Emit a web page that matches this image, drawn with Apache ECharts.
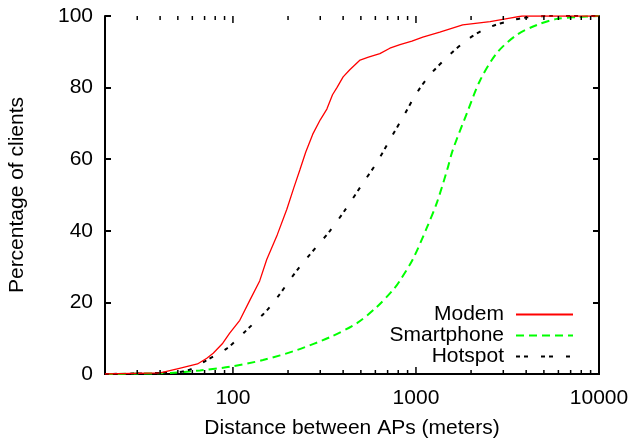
<!DOCTYPE html>
<html>
<head>
<meta charset="utf-8">
<script src="https://cdn.jsdelivr.net/npm/echarts@6/dist/echarts.min.js"></script>
<style>html,body{margin:0;padding:0;background:#fff}#c{width:634px;height:441px}</style>
</head>
<body>
<div id="c"></div>
<script>
const seriesNames = ['Modem', 'Smartphone', 'Hotspot'];

const modemX = [20, 40, 51, 64, 72, 78, 88, 96, 109, 124, 140, 153, 175, 197, 215, 232, 250, 273, 300, 326, 350, 370, 400, 435, 495, 550, 635, 720, 818, 950, 1090, 1350, 1800, 2540, 3260, 3800, 10000];
const modemY = [0, 0.3, 1.6, 2.8, 4.4, 5.8, 8.6, 11.4, 15, 20.7, 26, 32, 39, 46, 52, 57, 62, 67, 71, 74, 78, 80, 83, 85, 87.7, 88.5, 89.5, 91, 92, 93, 94.1, 95.5, 97.5, 98.4, 99.4, 100, 100];

const smartX = [20, 45, 66, 96, 146, 224, 339, 476, 610, 750, 815, 960, 1150, 1300, 1480, 1590, 1900, 2240, 2770, 3550, 4580, 5880, 7600, 10000];
const smartY = [0, 0.3, 1, 2, 3.9, 6.7, 10.3, 14.2, 18.7, 23.5, 26, 32, 41, 47.8, 57, 62.6, 72.9, 82, 89.7, 94.7, 97.5, 99.2, 99.7, 100];

const hotX = [20, 50, 60, 72, 93, 119, 159, 232, 339, 420, 513, 610, 720, 850, 1010, 1190, 1480, 1900, 2440, 3400, 4200, 5500, 10000];
const hotY = [0, 0.5, 1.5, 3.9, 7.2, 12.3, 18.7, 30, 40, 46.6, 53.3, 59, 65.4, 71.8, 78.5, 83.5, 88.5, 93.3, 96.6, 98.9, 99.7, 100, 100];

const xMajorTicks = [100, 1000, 10000];
const xMinorTicks = [30, 40, 50, 60, 70, 80, 90, 200, 300, 400, 500, 600, 700, 800, 900, 2000, 3000, 4000, 5000, 6000, 7000, 8000, 9000];
const yTicks = [0, 20, 40, 60, 80, 100];

const FONT = "'Liberation Sans', Arial, Helvetica, sans-serif";
const FS = 21;
const zip = (xs, ys) => xs.map((x, i) => [x, ys[i]]);

const tickData = xMajorTicks.map(v => [v, 1]).concat(xMinorTicks.map(v => [v, 0]));

const chart = echarts.init(document.getElementById('c'), null, {renderer: 'canvas'});
chart.setOption({
  animation: false,
  backgroundColor: '#fff',
  textStyle: {fontFamily: FONT},
  grid: {left: 105, right: 35, top: 16, bottom: 67, containLabel: false, outerBoundsMode: 'none'},
  legend: {
    orient: 'vertical',
    right: 60,
    top: 304,
    align: 'right',
    itemWidth: 57,
    itemHeight: 14,
    itemGap: 0,
    padding: 0,
    data: seriesNames,
    itemStyle: {opacity: 0},
    textStyle: {fontSize: FS, lineHeight: 21, color: '#000', fontFamily: FONT, padding: [0, 7, 0, 0]}
  },
  xAxis: [{
    type: 'log',
    logBase: 10,
    min: 20,
    max: 10000,
    position: 'bottom',
    name: 'Distance between APs (meters)',
    nameLocation: 'middle',
    nameGap: 44,
    nameTextStyle: {fontSize: FS, color: '#000', fontFamily: FONT},
    axisLine: {show: true, lineStyle: {color: '#000', width: 2}},
    axisTick: {show: false},
    splitLine: {show: false},
    minorTick: {show: false},
    axisLabel: {
      fontSize: FS, color: '#000', fontFamily: FONT, margin: 14,
      formatter: function (v) {
        const r = Math.round(v);
        return xMajorTicks.indexOf(r) >= 0 ? String(r) : '';
      }
    }
  }, {
    type: 'log',
    logBase: 10,
    min: 20,
    max: 10000,
    position: 'top',
    axisLine: {show: true, lineStyle: {color: '#000', width: 2}},
    axisTick: {show: false},
    axisLabel: {show: false},
    splitLine: {show: false}
  }],
  yAxis: [{
    type: 'value',
    min: 0,
    max: 100,
    interval: 20,
    position: 'left',
    name: 'Percentage of clients',
    nameLocation: 'middle',
    nameGap: 77,
    nameTextStyle: {fontSize: FS, color: '#000', fontFamily: FONT},
    axisLine: {show: true, lineStyle: {color: '#000', width: 2}},
    axisTick: {show: true, inside: true, length: 6, lineStyle: {color: '#000', width: 2}},
    splitLine: {show: false},
    axisLabel: {fontSize: FS, color: '#000', fontFamily: FONT, margin: 12,
      formatter: function (v) { return yTicks.indexOf(v) >= 0 ? String(v) : ''; }}
  }, {
    type: 'value',
    min: 0,
    max: 100,
    interval: 20,
    position: 'right',
    axisLine: {show: true, lineStyle: {color: '#000', width: 2}},
    axisTick: {show: true, inside: true, length: 6, lineStyle: {color: '#000', width: 2}},
    splitLine: {show: false},
    axisLabel: {show: false}
  }],
  series: [{
    name: 'Modem',
    type: 'line',
    data: zip(modemX, modemY),
    showSymbol: false,
    symbol: 'none',
    color: '#ff0000',
    lineStyle: {color: '#ff0000', width: 1.3, type: 'solid'},
    z: 3
  }, {
    name: 'Smartphone',
    type: 'line',
    data: zip(smartX, smartY),
    showSymbol: false,
    symbol: 'none',
    smooth: 0.3,
    color: '#00ff00',
    lineStyle: {color: '#00ff00', width: 2, type: [8, 5]},
    z: 2
  }, {
    name: 'Hotspot',
    type: 'line',
    data: zip(hotX, hotY),
    showSymbol: false,
    symbol: 'none',
    smooth: 0.3,
    color: '#000000',
    lineStyle: {color: '#000000', width: 2, type: [4, 4, 4, 13]},
    z: 2
  }, {
    name: 'xticks',
    type: 'custom',
    silent: true,
    clip: false,
    data: tickData,
    z: 5,
    renderItem: function (params, api) {
      const v = api.value(0);
      const major = api.value(1) === 1;
      const len = major ? 7 : 4;
      const b = api.coord([v, 0]);
      const t = api.coord([v, 100]);
      const style = {stroke: '#000', lineWidth: 1.5};
      return {
        type: 'group',
        children: [
          {type: 'line', shape: {x1: b[0], y1: b[1], x2: b[0], y2: b[1] - len}, style: style},
          {type: 'line', shape: {x1: t[0], y1: t[1], x2: t[0], y2: t[1] + len}, style: style}
        ]
      };
    }
  }]
});
</script>
</body>
</html>
